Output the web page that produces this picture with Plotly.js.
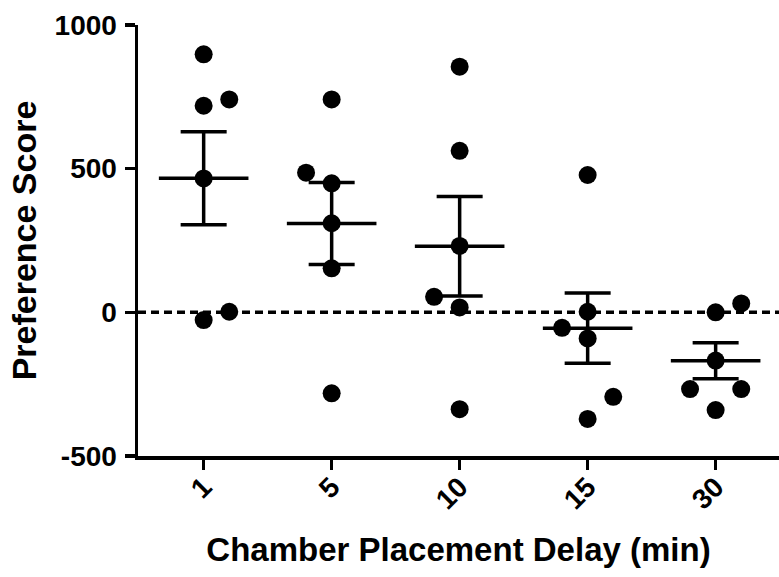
<!DOCTYPE html>
<html><head><meta charset="utf-8">
<script src="https://cdn.plot.ly/plotly-3.0.1.min.js"></script>
<style>html,body{margin:0;padding:0;background:#fff}#chart{width:779px;height:577px}</style>
</head><body><div id="chart"></div>
<script>
// Categories (chamber placement delay, min)
const categories = ['1', '5', '10', '15', '30'];
// Individual preference scores per delay group
const scores1  = [898, 741, 719, 466, 2, -27];
const scores5  = [741, 486, 449, 310, 153, -282];
const scores10 = [855, 562, 231, 54, 17, -337];
const scores15 = [478, 2, -54, -91, -294, -371];
const scores30 = [31, 0, -168, -267, -267, -340];
// Side of the scatter column each dot sits on (-1 left, 0 centre, 1 right)
const side1  = [0, 1, 0, 0, 1, 0];
const side5  = [0, -1, 0, 0, 0, 0];
const side10 = [0, 0, 0, -1, 0, 0];
const side15 = [0, 0, -1, 0, 1, 0];
const side30 = [1, 0, 0, -1, 1, 0];
// Y tick values and labels
const yTickVals = [-500, 0, 500, 1000];
const yTickText = ['-500', '0', '500', '1000'];

const groups = [scores1, scores5, scores10, scores15, scores30];
const sides = [side1, side5, side10, side15, side30];
const JITTER = 0.2;

function mean(a) { return a.reduce((s, v) => s + v, 0) / a.length; }
function sem(a) {
  const m = mean(a);
  const v = a.reduce((s, x) => s + (x - m) * (x - m), 0) / (a.length - 1);
  return Math.sqrt(v) / Math.sqrt(a.length);
}

const px = [], py = [];
groups.forEach((g, i) => {
  g.forEach((v, j) => { px.push(i + sides[i][j] * JITTER); py.push(v); });
});
const idx = categories.map((c, i) => i);
const means = groups.map(mean);
const sems = groups.map(sem);

const FONT = 'Liberation Sans, Arial, Helvetica, sans-serif';
const LW = 3.5;

const summary = {
  x: idx, y: means, type: 'scatter', mode: 'markers',
  marker: { size: 1, color: 'rgba(0,0,0,0)' },
  error_y: { type: 'data', array: sems, visible: true, color: '#000', thickness: LW, width: 23 },
  error_x: { type: 'constant', value: 0.35, visible: true, color: '#000', thickness: LW, width: 0 },
  hoverinfo: 'skip'
};
const dots = {
  x: px, y: py, type: 'scatter', mode: 'markers',
  marker: { size: 18, color: '#000' }
};

const axisCommon = {
  showline: true, linecolor: '#000', linewidth: LW,
  ticks: 'outside', ticklen: 10, tickwidth: LW, tickcolor: '#000',
  showgrid: false, zeroline: false,
  tickfont: { family: FONT, size: 28, color: '#000', weight: 'bold' }
};

const layout = {
  width: 779, height: 577,
  margin: { l: 138, r: 0, t: 25, b: 121 },
  paper_bgcolor: '#fff', plot_bgcolor: '#fff',
  showlegend: false,
  xaxis: Object.assign({}, axisCommon, {
    range: [-0.513, 4.495],
    tickvals: idx, ticktext: categories, tickangle: -45,
    ticklabelstandoff: -10,
    title: { text: 'Chamber Placement Delay (min)', font: { family: FONT, size: 33, color: '#000', weight: 'bold' }, standoff: 24 }
  }),
  yaxis: Object.assign({}, axisCommon, {
    range: [-500, 1000], tickvals: yTickVals, ticktext: yTickText,
    ticklabelstandoff: 2,
    title: { text: 'Preference Score', font: { family: FONT, size: 34, color: '#000', weight: 'bold' }, standoff: 8 }
  }),
  shapes: [{
    type: 'line', xref: 'paper', x0: 0, x1: 1, yref: 'y', y0: 0, y1: 0,
    line: { color: '#000', width: 3.5, dash: '8px,5px' }, layer: 'below'
  }]
};

Plotly.newPlot('chart', [summary, dots], layout, { displayModeBar: false, staticPlot: true });
</script>
</body></html>
